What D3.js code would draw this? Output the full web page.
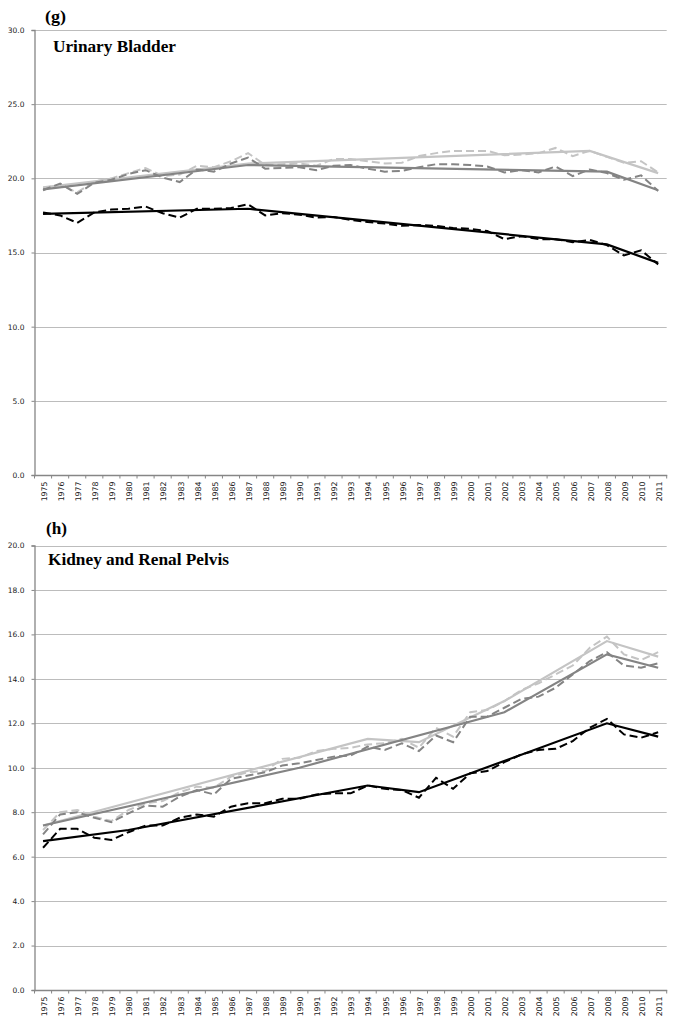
<!DOCTYPE html>
<html>
<head>
<meta charset="utf-8">
<script src="https://cdn.jsdelivr.net/npm/d3@7"></script>
<style>
  html, body { margin: 0; padding: 0; background: #fff; }
  svg { display: block; }
</style>
</head>
<body>
<svg id="chart" width="676" height="1026"></svg>
<script>
// ---------- DATA ----------
const years = [1975,1976,1977,1978,1979,1980,1981,1982,1983,1984,1985,1986,1987,1988,1989,1990,1991,1992,1993,1994,1995,1996,1997,1998,1999,2000,2001,2002,2003,2004,2005,2006,2007,2008,2009,2010,2011];

// (g) Urinary Bladder
const gTicks = [0,5,10,15,20,25,30];
const gBlackObs = [17.7,17.5,17.0,17.7,17.9,17.95,18.1,17.65,17.35,17.95,17.95,18.0,18.25,17.5,17.65,17.55,17.35,17.4,17.2,17.05,16.95,16.8,16.85,16.8,16.65,16.6,16.45,15.9,16.1,15.9,15.9,15.7,15.85,15.5,14.8,15.15,14.2];
const gDarkObs  = [19.2,19.65,18.95,19.7,19.9,20.3,20.55,20.05,19.75,20.6,20.45,21.0,21.4,20.65,20.7,20.75,20.55,20.85,20.9,20.65,20.45,20.5,20.75,20.95,20.95,20.9,20.8,20.4,20.55,20.4,20.8,20.15,20.6,20.35,19.9,20.2,19.15];
const gLightObs = [19.35,19.55,19.05,19.8,20.0,20.35,20.7,20.15,20.25,20.85,20.75,21.15,21.7,20.9,20.95,21.0,20.85,21.3,21.3,21.15,21.0,21.05,21.5,21.7,21.85,21.85,21.85,21.55,21.6,21.7,22.05,21.5,21.85,21.45,21.05,21.15,20.4];
const gBlackTrendYears = [1975,1987,2008,2011];
const gBlackTrend      = [17.6,17.95,15.55,14.3];
const gDarkTrendYears  = [1975,1987,2008,2011];
const gDarkTrend       = [19.25,20.9,20.45,19.2];
const gLightTrendYears = [1975,1987,2007,2011];
const gLightTrend      = [19.4,21.0,21.85,20.35];

// (h) Kidney and Renal Pelvis
const hTicks = [0,2,4,6,8,10,12,14,16,18,20];
const hBlackObs = [6.4,7.25,7.25,6.85,6.75,7.1,7.4,7.4,7.75,7.9,7.8,8.25,8.4,8.4,8.6,8.6,8.8,8.85,8.85,9.2,9.05,9.0,8.65,9.55,9.05,9.75,9.85,10.25,10.6,10.8,10.85,11.2,11.8,12.2,11.5,11.35,11.6];
const hDarkObs  = [7.0,7.9,8.0,7.75,7.55,7.95,8.3,8.25,8.7,9.0,8.8,9.5,9.65,9.8,10.1,10.2,10.35,10.5,10.55,10.95,10.8,11.1,10.75,11.45,11.15,12.3,12.3,12.7,13.1,13.2,13.6,14.2,14.8,15.2,14.6,14.5,14.7];
const hLightObs = [7.2,8.0,8.1,7.8,7.6,8.1,8.4,8.5,8.9,9.15,9.1,9.6,9.8,9.85,10.4,10.45,10.75,10.85,10.9,11.05,11.1,11.3,10.9,11.8,11.4,12.5,12.6,13.0,13.5,13.8,14.2,14.6,15.4,15.9,15.1,14.85,15.2];
const hBlackTrendYears = [1975,1980,1994,1997,2008,2011];
const hBlackTrend      = [6.7,7.2,9.2,8.9,12.0,11.4];
const hDarkTrendYears  = [1975,1990,2002,2008,2011];
const hDarkTrend       = [7.4,10.0,12.5,15.1,14.5];
const hLightTrendYears = [1975,1994,1997,2002,2008,2011];
const hLightTrend      = [7.4,11.3,11.15,13.0,15.7,15.0];

// ---------- STYLE ----------
const COL_BLACK = "#000000", COL_DARK = "#848484", COL_LIGHT = "#c4c4c4";
const GRID = "#bcbcbc", AXIS = "#868686";

const svg = d3.select("#chart");
svg.append("rect").attr("width", 676).attr("height", 1026).attr("fill", "#fff");

const x = d3.scaleBand().domain(years).range([34.5, 666.7]).paddingInner(0).paddingOuter(0);
const cx = d => x(d) + x.bandwidth() / 2;

function panel(cfg) {
  const g = svg.append("g");
  const y = d3.scaleLinear().domain([0, cfg.ymax]).range([cfg.bottom, cfg.top]);

  // gridlines
  g.append("g").selectAll("line").data(cfg.ticks.filter(t => t > 0)).join("line")
    .attr("x1", 34.5).attr("x2", 666.7)
    .attr("y1", d => Math.round(y(d)) + 0.5).attr("y2", d => Math.round(y(d)) + 0.5)
    .attr("stroke", GRID).attr("stroke-width", 1);

  // y axis
  const ya = g.append("g").attr("transform", "translate(34.5,0)")
    .call(d3.axisLeft(y).tickValues(cfg.ticks).tickFormat(d3.format(".1f")).tickSize(3).tickPadding(7));
  ya.select(".domain").attr("stroke", AXIS).attr("stroke-width", 1.3);
  ya.selectAll(".tick line").attr("stroke", AXIS);
  ya.selectAll("text").attr("font-family", "DejaVu Sans, Verdana, sans-serif").attr("font-size", 7.5).attr("fill", "#222");

  // x axis
  const xa = g.append("g").attr("transform", `translate(0,${cfg.bottom})`)
    .call(d3.axisBottom(x).tickSize(0).tickPadding(0));
  xa.select(".domain").attr("stroke", AXIS).attr("stroke-width", 1.3);
  xa.selectAll(".tick text")
    .attr("font-family", "DejaVu Sans, Verdana, sans-serif").attr("font-size", 7.8).attr("fill", "#222")
    .attr("text-anchor", "end")
    .attr("transform", "rotate(-90)")
    .attr("x", -6.5).attr("y", 1).attr("dy", "0.36em");
  // boundary tick marks
  const bounds = years.map(d => x(d)).concat([x(years[years.length - 1]) + x.bandwidth()]);
  g.append("g").selectAll("line").data(bounds).join("line")
    .attr("x1", d => d).attr("x2", d => d)
    .attr("y1", cfg.bottom).attr("y2", cfg.bottom + 3.5)
    .attr("stroke", AXIS).attr("stroke-width", 1);

  const line = d3.line().x(d => cx(d[0])).y(d => y(d[1]));

  const order = [
    { obs: cfg.lightObs, ty: cfg.lightTY, tv: cfg.lightT, c: COL_LIGHT },
    { obs: cfg.darkObs,  ty: cfg.darkTY,  tv: cfg.darkT,  c: COL_DARK },
    { obs: cfg.blackObs, ty: cfg.blackTY, tv: cfg.blackT, c: COL_BLACK }
  ];
  order.forEach(s => {
    g.append("path").datum(years.map((yr, i) => [yr, s.obs[i]]))
      .attr("d", line).attr("fill", "none").attr("stroke", s.c)
      .attr("stroke-width", 2).attr("stroke-dasharray", "8,4");
    g.append("path").datum(s.ty.map((yr, i) => [yr, s.tv[i]]))
      .attr("d", line).attr("fill", "none").attr("stroke", s.c)
      .attr("stroke-width", 2.2);
  });

  // labels
  g.append("text").attr("x", cfg.letterX).attr("y", cfg.letterY)
    .attr("font-family", "Liberation Serif, Times New Roman, serif").attr("font-weight", "bold")
    .attr("font-size", 16).attr("textLength", 21).attr("lengthAdjust", "spacingAndGlyphs")
    .text(cfg.letter);
  g.append("text").attr("x", cfg.titleX).attr("y", cfg.titleY)
    .attr("font-family", "Liberation Serif, Times New Roman, serif").attr("font-weight", "bold")
    .attr("font-size", 16).attr("textLength", cfg.titleLen).attr("lengthAdjust", "spacingAndGlyphs")
    .text(cfg.title);
}

panel({
  top: 30, bottom: 475, ymax: 30, ticks: gTicks,
  blackObs: gBlackObs, darkObs: gDarkObs, lightObs: gLightObs,
  blackTY: gBlackTrendYears, blackT: gBlackTrend,
  darkTY: gDarkTrendYears, darkT: gDarkTrend,
  lightTY: gLightTrendYears, lightT: gLightTrend,
  letter: "(g)", letterX: 45, letterY: 22,
  title: "Urinary Bladder", titleX: 53, titleY: 52, titleLen: 123
});

panel({
  top: 545.5, bottom: 990, ymax: 20, ticks: hTicks,
  blackObs: hBlackObs, darkObs: hDarkObs, lightObs: hLightObs,
  blackTY: hBlackTrendYears, blackT: hBlackTrend,
  darkTY: hDarkTrendYears, darkT: hDarkTrend,
  lightTY: hLightTrendYears, lightT: hLightTrend,
  letter: "(h)", letterX: 46, letterY: 534,
  title: "Kidney and Renal Pelvis", titleX: 48, titleY: 565, titleLen: 181
});
</script>
</body>
</html>
